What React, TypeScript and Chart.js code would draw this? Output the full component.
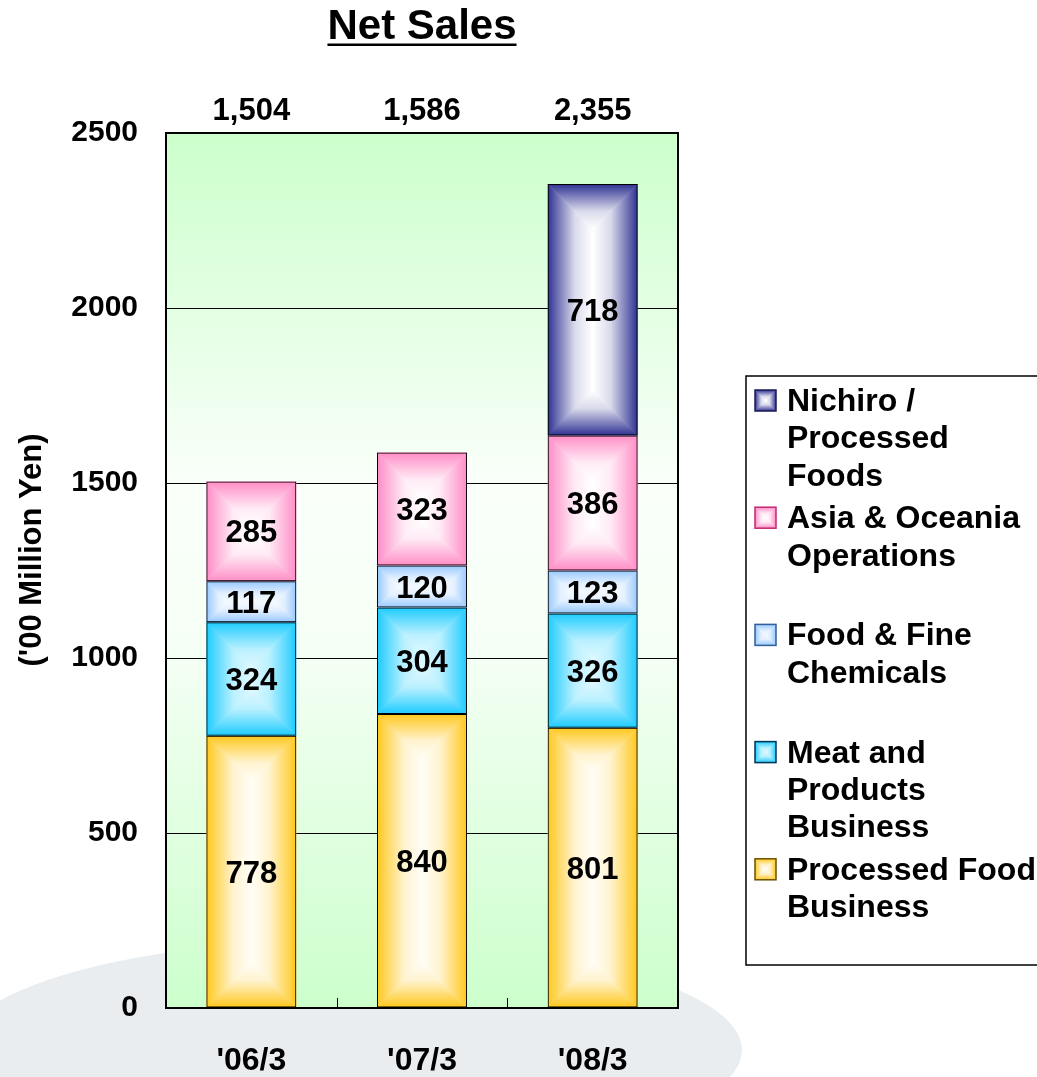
import { useEffect, useRef } from 'react';
import { Chart, registerables } from 'chart.js';

Chart.register(...registerables);

// Fiscal periods (year ending March) and segment sales in '00 million yen
const periods = ["'06/3", "'07/3", "'08/3"];
const processedFood = [778, 840, 801];
const meatProducts = [324, 304, 326];
const foodFineChemicals = [117, 120, 123];
const asiaOceania = [285, 323, 386];
const nichiroProcessed = [null, null, 718];
const totalLabels = ['1,504', '1,586', '2,355'];
const yTickValues = [0, 500, 1000, 1500, 2000, 2500];

const FONT = '"Liberation Sans", Arial, Helvetica, sans-serif';

type Segment = {
  label: string;
  lines: string[];
  data: (number | null)[];
  edge: string;
  core: string;
  swatchBorder: string;
};

// Stack order: bottom to top
const segments: Segment[] = [
  { label: 'Processed Food Business', lines: ['Processed Food', 'Business'], data: processedFood, edge: '#FFC71C', core: '#FFFDF6', swatchBorder: '#6B5200' },
  { label: 'Meat and Products Business', lines: ['Meat and', 'Products', 'Business'], data: meatProducts, edge: '#1CCBFF', core: '#DDF8FF', swatchBorder: '#003355' },
  { label: 'Food & Fine Chemicals', lines: ['Food & Fine', 'Chemicals'], data: foodFineChemicals, edge: '#96C8FF', core: '#F4F9FF', swatchBorder: '#2F5F99' },
  { label: 'Asia & Oceania Operations', lines: ['Asia & Oceania', 'Operations'], data: asiaOceania, edge: '#FF8CC6', core: '#FFFFFF', swatchBorder: '#C02A6E' },
  { label: 'Nichiro / Processed Foods', lines: ['Nichiro /', 'Processed', 'Foods'], data: nichiroProcessed, edge: '#2E3192', core: '#FFFFFF', swatchBorder: '#1A1A55' },
];

function hexToRgb(hex: string): number[] {
  const n = parseInt(hex.slice(1), 16);
  return [(n >> 16) & 255, (n >> 8) & 255, n & 255];
}

function mix(a: string, b: string, t: number): string {
  const ca = hexToRgb(a);
  const cb = hexToRgb(b);
  const c = ca.map((v, i) => Math.round(v + (cb[i] - v) * t));
  return `rgb(${c[0]},${c[1]},${c[2]})`;
}

// Rectangular "from centre" gradient: colour at the edges, light core
function fillRectGradient(
  ctx: CanvasRenderingContext2D,
  x0: number, y0: number, w: number, h: number,
  edge: string, core: string,
) {
  if (w <= 0 || h <= 0) return;
  const m = Math.min(w, h) / 2;
  const x1 = x0 + w;
  const y1 = y0 + h;
  const parts: { pts: number[][]; g: number[] }[] = [
    { pts: [[x0, y0], [x0 + m, y0 + m], [x0 + m, y1 - m], [x0, y1]], g: [x0, 0, x0 + m, 0] },
    { pts: [[x1, y0], [x1 - m, y0 + m], [x1 - m, y1 - m], [x1, y1]], g: [x1, 0, x1 - m, 0] },
    { pts: [[x0, y0], [x1, y0], [x1 - m, y0 + m], [x0 + m, y0 + m]], g: [0, y0, 0, y0 + m] },
    { pts: [[x0, y1], [x1, y1], [x1 - m, y1 - m], [x0 + m, y1 - m]], g: [0, y1, 0, y1 - m] },
  ];
  ctx.save();
  ctx.beginPath();
  ctx.rect(x0, y0, w, h);
  ctx.clip();
  ctx.fillStyle = core;
  ctx.fillRect(x0, y0, w, h);
  for (const p of parts) {
    const grad = ctx.createLinearGradient(p.g[0], p.g[1], p.g[2], p.g[3]);
    grad.addColorStop(0, edge);
    grad.addColorStop(0.25, mix(edge, core, 0.35));
    grad.addColorStop(0.6, mix(edge, core, 0.82));
    grad.addColorStop(1, core);
    ctx.beginPath();
    ctx.moveTo(p.pts[0][0], p.pts[0][1]);
    for (let i = 1; i < p.pts.length; i++) ctx.lineTo(p.pts[i][0], p.pts[i][1]);
    ctx.closePath();
    ctx.fillStyle = grad;
    ctx.strokeStyle = grad;
    ctx.lineWidth = 0.8;
    ctx.fill();
    ctx.stroke();
  }
  ctx.restore();
}

const backdropPlugin = {
  id: 'backdrop',
  beforeDraw(chart: Chart) {
    const { ctx, chartArea: a, width, height } = chart;
    ctx.save();
    ctx.fillStyle = '#FFFFFF';
    ctx.fillRect(0, 0, width, height);
    // soft grey swoosh in the lower left
    ctx.fillStyle = '#E9EDF0';
    ctx.beginPath();
    ctx.ellipse(350, 1050, 392, 110, 0, 0, Math.PI * 2);
    ctx.fill();
    // plot area wash
    const g = ctx.createLinearGradient(0, a.top, 0, a.bottom);
    g.addColorStop(0, '#CCFFCC');
    g.addColorStop(0.4, '#FAFFFA');
    g.addColorStop(0.58, '#F6FFF6');
    g.addColorStop(1, '#CCFFCC');
    ctx.fillStyle = g;
    ctx.fillRect(a.left, a.top, a.right - a.left, a.bottom - a.top);
    ctx.restore();
  },
};

const barFillPlugin = {
  id: 'barFill',
  beforeDatasetsDraw(chart: Chart) {
    const { ctx } = chart;
    chart.data.datasets.forEach((ds, di) => {
      const meta = chart.getDatasetMeta(di);
      const seg = segments[di];
      meta.data.forEach((el: any, i: number) => {
        if (ds.data[i] == null) return;
        const { x, y, base, width } = el.getProps(['x', 'y', 'base', 'width'], true);
        const top = Math.min(y, base);
        const h = Math.abs(base - y);
        fillRectGradient(ctx, x - width / 2, top, width, h, seg.edge, seg.core);
      });
    });
  },
  afterDatasetsDraw(chart: Chart) {
    const { ctx } = chart;
    ctx.save();
    ctx.fillStyle = '#000000';
    ctx.font = `bold 31px ${FONT}`;
    ctx.textAlign = 'center';
    ctx.textBaseline = 'alphabetic';
    chart.data.datasets.forEach((ds, di) => {
      const meta = chart.getDatasetMeta(di);
      meta.data.forEach((el: any, i: number) => {
        const v = ds.data[i] as number | null;
        if (v == null) return;
        const { x, y, base } = el.getProps(['x', 'y', 'base'], true);
        ctx.fillText(String(v), x, (y + base) / 2 + 11);
      });
    });
    ctx.restore();
  },
};

const decorPlugin = {
  id: 'decor',
  afterDraw(chart: Chart) {
    const { ctx, chartArea: a } = chart;
    const xs = chart.scales.x;
    ctx.save();

    // category separators on the x axis
    ctx.strokeStyle = '#000000';
    ctx.lineWidth = 1;
    for (let i = 0; i < periods.length - 1; i++) {
      const px = Math.round((xs.getPixelForValue(i) + xs.getPixelForValue(i + 1)) / 2) + 0.5;
      ctx.beginPath();
      ctx.moveTo(px, a.bottom);
      ctx.lineTo(px, a.bottom - 10);
      ctx.stroke();
    }

    // plot frame
    ctx.lineWidth = 2;
    ctx.strokeRect(a.left, a.top, a.right - a.left, a.bottom - a.top);

    // totals above each bar
    ctx.fillStyle = '#000000';
    ctx.font = `bold 31px ${FONT}`;
    ctx.textAlign = 'center';
    ctx.textBaseline = 'alphabetic';
    totalLabels.forEach((t, i) => {
      ctx.fillText(t, xs.getPixelForValue(i), a.top - 13);
    });

    // title
    const cx = (a.left + a.right) / 2;
    ctx.font = `bold 42px ${FONT}`;
    const title = 'Net Sales';
    const tw = ctx.measureText(title).width;
    ctx.fillText(title, cx, 39);
    ctx.fillRect(cx - tw / 2, 43.5, tw, 2.5);

    // y axis title
    ctx.save();
    ctx.translate(32, 550);
    ctx.rotate(-Math.PI / 2);
    ctx.font = `bold 31px ${FONT}`;
    ctx.textBaseline = 'middle';
    ctx.fillText("('00 Million Yen)", 0, 0);
    ctx.restore();

    // legend
    const lx = 746;
    const ly = 376;
    ctx.fillStyle = '#FFFFFF';
    ctx.fillRect(lx, ly, 1037 - lx + 5, 965 - ly);
    ctx.lineWidth = 1.5;
    ctx.strokeStyle = '#000000';
    ctx.strokeRect(lx, ly, 1037 - lx + 5, 965 - ly);
    ctx.font = `bold 32px ${FONT}`;
    ctx.textAlign = 'left';
    const order = [...segments].reverse();
    order.forEach((seg, k) => {
      const base = 411 + 117.2 * k;
      fillRectGradient(ctx, 755, base - 21, 21, 21, seg.edge, seg.core);
      ctx.strokeStyle = seg.swatchBorder;
      ctx.lineWidth = 1.5;
      ctx.strokeRect(755, base - 21, 21, 21);
      ctx.fillStyle = '#000000';
      seg.lines.forEach((line, j) => {
        ctx.fillText(line, 787, base + 37.3 * j);
      });
    });

    ctx.restore();
  },
};

export default function App() {
  const canvasRef = useRef<HTMLCanvasElement | null>(null);

  useEffect(() => {
    const canvas = canvasRef.current;
    if (!canvas) return;
    const chart = new Chart(canvas, {
      type: 'bar',
      data: {
        labels: periods,
        datasets: segments.map((s) => ({
          label: s.label,
          data: s.data,
          backgroundColor: 'rgba(0,0,0,0)',
          borderColor: '#000000',
          borderWidth: 1,
          borderSkipped: false,
          categoryPercentage: 1,
          barPercentage: 0.527,
        })),
      },
      options: {
        responsive: false,
        animation: false,
        devicePixelRatio: 1,
        layout: { padding: { left: 0, right: 359, top: 133, bottom: 0 } },
        plugins: {
          legend: { display: false },
          tooltip: { enabled: false },
          title: { display: false },
        },
        scales: {
          x: {
            stacked: true,
            grid: { display: false },
            border: { display: false },
            ticks: {
              color: '#000000',
              font: { family: FONT, size: 32, weight: 'bold' },
              padding: 26,
              maxRotation: 0,
            },
            afterFit: (s: any) => { s.height = 69; },
          },
          y: {
            stacked: true,
            min: 0,
            max: 2500,
            grid: { color: '#000000', lineWidth: 1, drawTicks: false },
            border: { display: false },
            afterBuildTicks: (s: any) => { s.ticks = yTickValues.map((v) => ({ value: v })); },
            ticks: {
              color: '#000000',
              font: { family: FONT, size: 30, weight: 'bold' },
              padding: 28,
              callback: (v: any) => String(v),
            },
            afterFit: (s: any) => { s.width = 166; },
          },
        },
      },
      plugins: [backdropPlugin, barFillPlugin, decorPlugin],
    });
    return () => chart.destroy();
  }, []);

  return (
    <div style={{ position: 'absolute', left: 0, top: 0, width: 1037, height: 1077 }}>
      <canvas ref={canvasRef} width={1037} height={1077} />
    </div>
  );
}
